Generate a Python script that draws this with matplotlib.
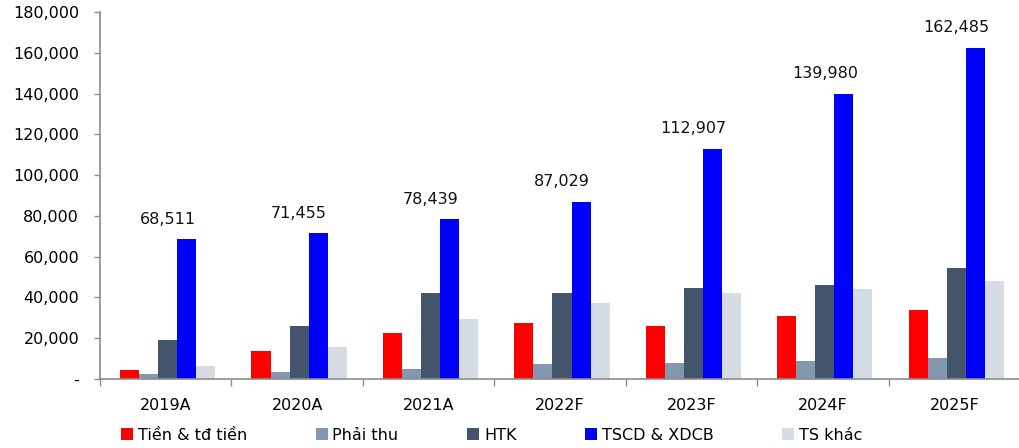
import numpy as np
import matplotlib
matplotlib.use('Agg')
import matplotlib.pyplot as plt
from matplotlib.patches import Patch
from matplotlib.ticker import FuncFormatter

plt.rcParams['font.family'] = ['DejaVu Sans']

years = ['2019A', '2020A', '2021A', '2022F', '2023F', '2024F', '2025F']
tien = [4500, 13700, 22600, 27500, 26000, 30900, 33800]
phai_thu = [2500, 3400, 4900, 7400, 7900, 8800, 10300]
htk = [19100, 26000, 42200, 42400, 44600, 46100, 54400]
tscd = [68511, 71455, 78439, 87029, 112907, 139980, 162485]
ts_khac = [6400, 15700, 29400, 37300, 42200, 44100, 48100]

series_names = ['Tiền & tđ tiền', 'Phải thu', 'HTK', 'TSCD & XDCB', 'TS khác']
series_vals = [tien, phai_thu, htk, tscd, ts_khac]
colors = ['#FF0000', '#8497B0', '#44546A', '#0000FF', '#D6DCE4']

fig = plt.figure(figsize=(10.2, 4.48), dpi=100)
ax = fig.add_axes([100/1020, 69/448, 920/1020, 367/448])

x = np.arange(len(years))
w = 0.145
shift = 0.015
for i, (vals, c) in enumerate(zip(series_vals, colors)):
    ax.bar(x + (i - 2) * w + shift, vals, width=w, color=c, linewidth=0)

# labels above the TSCD bars
for xi, v in zip(x, tscd):
    ax.annotate('{:,}'.format(v), (xi + shift, v), xytext=(0, 9), textcoords='offset points',
                ha='center', va='bottom', fontsize=11.5, color='#111111')

ax.set_xlim(-0.5, len(years) - 0.5)
ax.set_ylim(0, 180000)
ax.set_yticks(np.arange(0, 180001, 20000))
ax.yaxis.set_major_formatter(FuncFormatter(lambda v, p: '-' if v == 0 else '{:,.0f}'.format(v)))

ax.set_xticks(x)
ax.set_xticklabels(years)
ax.set_xticks(np.arange(-0.5, len(years)), minor=True)
ax.tick_params(axis='x', which='major', length=0, pad=14, labelsize=11.5)
ax.tick_params(axis='x', which='minor', length=5, color='#8c8c8c', width=1)
ax.tick_params(axis='y', length=4, color='#8c8c8c', width=1, pad=11, labelsize=11.5)

for s in ['top', 'right']:
    ax.spines[s].set_visible(False)
for s in ['left', 'bottom']:
    ax.spines[s].set_color('#8c8c8c')
    ax.spines[s].set_linewidth(1.2)

handles = [Patch(facecolor=c, edgecolor='none') for c in colors]
fig.legend(handles, series_names, loc='center left', bbox_to_anchor=(121/1020, 1 - 435/448),
           ncol=5, frameon=False, fontsize=11.5, handlelength=0.75, handleheight=0.75,
           handletextpad=0.3, columnspacing=4.3, borderpad=0, borderaxespad=0)

fig.savefig('out.png', dpi=100)
